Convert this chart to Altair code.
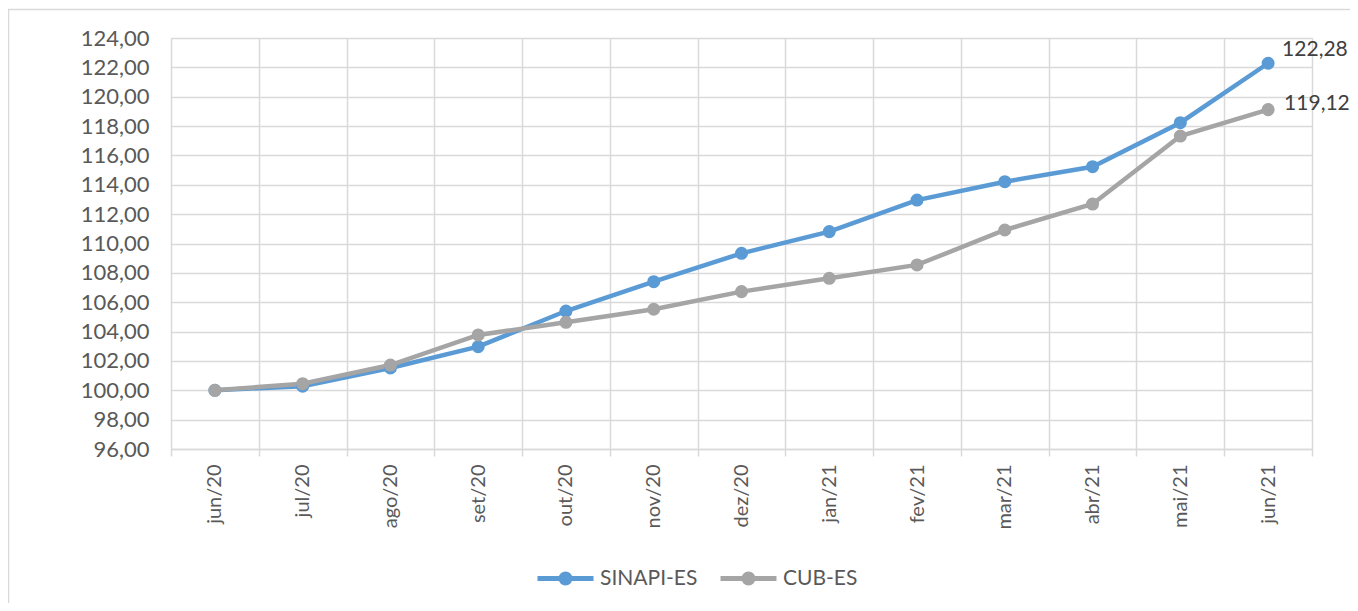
import altair as alt
import pandas as pd

months = ["jun/20", "jul/20", "ago/20", "set/20", "out/20", "nov/20", "dez/20",
          "jan/21", "fev/21", "mar/21", "abr/21", "mai/21", "jun/21"]
sinapi = [100.00, 100.28, 101.52, 102.97, 105.40, 107.40, 109.33,
          110.81, 112.96, 114.21, 115.23, 118.23, 122.28]
cub = [100.00, 100.45, 101.72, 103.77, 104.63, 105.52, 106.72,
       107.63, 108.54, 110.92, 112.69, 117.32, 119.12]
series_names = ["SINAPI-ES", "CUB-ES"]
series_colors = ["#5B9BD5", "#A5A5A5"]
y_ticks = list(range(96, 125, 2))

rows = []
for name, vals in zip(series_names, [sinapi, cub]):
    for m, v in zip(months, vals):
        rows.append({"mes": m, "valor": v, "serie": name})
df = pd.DataFrame(rows)

FONT = "Lato"
GRID = "#D9D9D9"
TXT = "#595959"

x_enc = alt.X("mes:N", sort=months, title=None,
              scale=alt.Scale(paddingInner=0, paddingOuter=0),
              axis=alt.Axis(labelAngle=-90, labelAlign="right", labelBaseline="middle",
                            labelFontSize=20, labelColor=TXT, labelFont=FONT,
                            labelPadding=8, tickBand="extent", tickSize=7,
                            tickColor=GRID, tickWidth=1.5, domainColor=GRID,
                            domainWidth=1.5, grid=True, gridColor=GRID, gridWidth=1.5,
                            labelOverlap=False))
y_enc = alt.Y("valor:Q", title=None,
              scale=alt.Scale(domain=[96, 124], nice=False, zero=False),
              axis=alt.Axis(values=y_ticks, labelExpr="replace(format(datum.value, '.2f'), '.', ',')",
                            labelFontSize=22, labelColor=TXT, labelFont=FONT,
                            labelPadding=22, ticks=False, domain=False, labelOverlap=False,
                            labelFlush=False,
                            grid=True, gridColor=GRID, gridWidth=1.5))

sym_path = "M-1,0L1,0M0.16,0A0.16,0.16,0,1,1,-0.16,0A0.16,0.16,0,1,1,0.16,0Z"
leg = alt.Legend(orient="none", legendX=364, legendY=510, direction="horizontal",
                 title=None, symbolType=sym_path, symbolSize=3136, symbolStrokeWidth=5,
                 labelFontSize=21, labelColor=TXT, labelFont=FONT, labelOffset=4,
                 columnPadding=12, padding=0, symbolOpacity=1)
col_scale = alt.Scale(domain=series_names, range=series_colors)

base = alt.Chart(df)
lines = base.mark_line(strokeWidth=4.5).encode(
    x=x_enc, y=y_enc,
    color=alt.Color("serie:N", scale=col_scale, legend=leg, sort=series_names))
points = base.mark_point(filled=True, size=170, opacity=1).encode(
    x=x_enc, y=y_enc,
    color=alt.Color("serie:N", scale=col_scale, legend=leg, sort=series_names))

lab_expr = "replace(format(datum.valor, '.2f'), '.', ',')"
lab1 = base.transform_filter(
    (alt.datum.serie == "SINAPI-ES") & (alt.datum.mes == "jun/21")
).transform_calculate(lab=lab_expr).mark_text(
    align="left", baseline="middle", dx=14, dy=-13, fontSize=21, font=FONT, color="#404040"
).encode(x=x_enc, y=y_enc, text="lab:N")
lab2 = base.transform_filter(
    (alt.datum.serie == "CUB-ES") & (alt.datum.mes == "jun/21")
).transform_calculate(lab=lab_expr).mark_text(
    align="left", baseline="middle", dx=16, dy=-5.5, fontSize=21, font=FONT, color="#404040"
).encode(x=x_enc, y=y_enc, text="lab:N")

border = alt.Chart(pd.DataFrame({"a": [0]})).mark_rect(
    fill=None, stroke=GRID, strokeWidth=1.5
).encode(x=alt.value(-162.5), x2=alt.value(1220), y=alt.value(-28.5), y2=alt.value(620))

chart = alt.layer(border, lines, points, lab1, lab2).properties(
    width=1141, height=411,
    autosize=alt.AutoSizeParams(type="none"),
    padding={"left": 163, "top": 30, "right": 38, "bottom": 154},
).configure_view(stroke=None).configure(background="white")

chart.save("out.html", embed_options={"renderer": "svg", "actions": False})
